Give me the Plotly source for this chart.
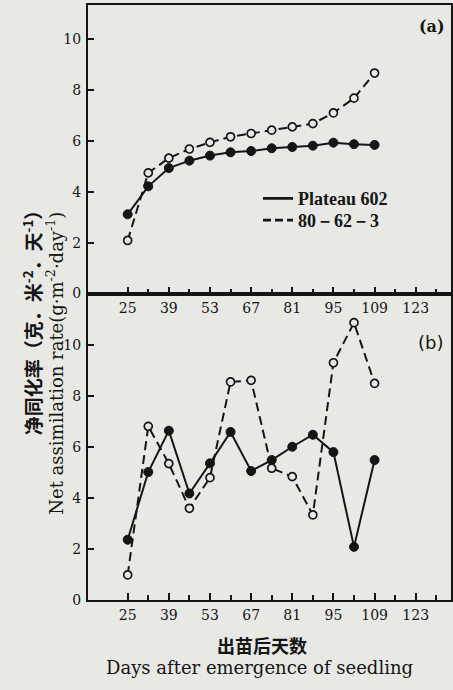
import plotly.graph_objects as go

W, H = 453, 690

days = [25, 32, 39, 46, 53, 60, 67, 74, 81, 88, 95, 102, 109]
a_plateau = [3.12, 4.22, 4.94, 5.23, 5.43, 5.56, 5.61, 5.72, 5.77, 5.82, 5.94, 5.88, 5.85]
a_8062 = [2.09, 4.75, 5.33, 5.69, 5.95, 6.17, 6.30, 6.43, 6.56, 6.69, 7.11, 7.69, 8.68]
b_plateau = [2.36, 5.01, 6.63, 4.17, 5.35, 6.58, 5.05, 5.48, 6.00, 6.47, 5.79, 2.08, 5.48]
b_8062 = [0.98, 6.80, 5.34, 3.59, 4.79, 8.54, 8.60, 5.16, 4.83, 3.33, 9.29, 10.86, 8.48]

x_major = [25, 39, 53, 67, 81, 95, 109, 123]
x_labels = ["25", "39", "53", "67", "81", "95", "109", "123"]
x_minor = [32, 46, 60, 74, 88, 102, 116, 130]
y_ticks = [0, 2, 4, 6, 8, 10]

names = ["Plateau 602", "80－62－3"]

BG = "#e8e8e5"
INK = "#151515"
SERIF = "DejaVu Serif"


def px_x(p):
    return p / W


def px_y(p):
    return 1 - p / H


fig = go.Figure()

dash = "9px,5px"
for xa, ya, s1, s2 in [("x", "y", a_plateau, a_8062), ("x2", "y2", b_plateau, b_8062)]:
    fig.add_trace(go.Scatter(x=days, y=s1, xaxis=xa, yaxis=ya, mode="lines+markers",
                             line=dict(color=INK, width=2),
                             marker=dict(symbol="circle", size=9, color=INK, line=dict(color=INK, width=1)),
                             showlegend=False))
    fig.add_trace(go.Scatter(x=days, y=s2, xaxis=xa, yaxis=ya, mode="lines+markers",
                             line=dict(color=INK, width=2, dash=dash),
                             marker=dict(symbol="circle", size=8, color=BG, line=dict(color=INK, width=1.7)),
                             showlegend=False))

# legend-only traces (lines only), each in its own legend box for exact row spacing
fig.add_trace(go.Scatter(x=[None], y=[None], mode="lines", name=names[0], legend="legend",
                         line=dict(color=INK, width=2.8), xaxis="x", yaxis="y"))
fig.add_trace(go.Scatter(x=[None], y=[None], mode="lines", name=names[1], legend="legend2",
                         line=dict(color=INK, width=2.8, dash="8px,4px"), xaxis="x", yaxis="y"))

xdom = [px_x(88), px_x(451)]
common_x = dict(range=[11.5, 135], tickmode="array", tickvals=x_major, ticktext=x_labels,
                ticks="inside", ticklen=7, tickwidth=1.5, tickcolor=INK,
                minor=dict(tickmode="array", tickvals=x_minor,
                           ticks="inside", ticklen=5, tickwidth=1.5, tickcolor=INK),
                showline=True, linecolor=INK, linewidth=2, mirror=True, showgrid=False,
                zeroline=False, ticklabelstandoff=1,
                tickfont=dict(family=SERIF, size=14, color=INK), domain=xdom)
common_y = dict(tickmode="array", tickvals=y_ticks, ticks="inside", ticklen=6, tickwidth=1.5,
                tickcolor=INK, showline=True, linecolor=INK, linewidth=2, mirror=True,
                showgrid=False, zeroline=False, ticklabelstandoff=2,
                tickfont=dict(family=SERIF, size=14, color=INK))

leg_font = dict(family="Liberation Serif", size=18, color=INK, weight="bold")
fig.update_layout(
    width=W, height=H, margin=dict(l=0, r=0, t=0, b=0),
    paper_bgcolor=BG, plot_bgcolor=BG,
    xaxis=dict(**common_x, anchor="y"),
    yaxis=dict(**common_y, range=[0, 11.36], domain=[px_y(297), px_y(5)], anchor="x"),
    xaxis2=dict(**common_x, anchor="y2"),
    yaxis2=dict(**common_y, range=[0, 12.0], domain=[px_y(607), px_y(297)], anchor="x2"),
    legend=dict(x=px_x(258), y=px_y(201), xanchor="left", yanchor="middle",
                bgcolor="rgba(0,0,0,0)", font=leg_font, borderwidth=0),
    legend2=dict(x=px_x(258), y=px_y(223), xanchor="left", yanchor="middle",
                 bgcolor="rgba(0,0,0,0)", font=leg_font, borderwidth=0),
    showlegend=True,
)

annos = [
    dict(text="<b>(a)</b>", x=px_x(432), y=px_y(27), font=dict(family=SERIF, size=16, color=INK)),
    dict(text="(b)", x=px_x(430), y=px_y(347), font=dict(family="DejaVu Sans", size=18, color=INK)),
    dict(text="出苗后天数", x=px_x(262), y=px_y(653), font=dict(family="Noto Sans CJK SC", size=18, color=INK, weight="bold")),
    dict(text="Days after emergence of seedling", x=px_x(259), y=px_y(675),
         font=dict(family=SERIF, size=18, color=INK)),
    dict(text="净同化率（克．米<sup>-2</sup>．天<sup>-1</sup>）", x=px_x(32), y=px_y(322), textangle=-90,
         font=dict(family="Noto Sans CJK SC", size=19, color=INK, weight="bold")),
    dict(text="Net assimilation rate(g·m<sup>-2</sup>·day<sup>-1</sup>)", x=px_x(55), y=px_y(368),
         textangle=-90, font=dict(family=SERIF, size=18, color=INK)),
]
for a in annos:
    fig.add_annotation(xref="paper", yref="paper", showarrow=False, xanchor="center", yanchor="middle", **a)

fig.write_html("out.html")
